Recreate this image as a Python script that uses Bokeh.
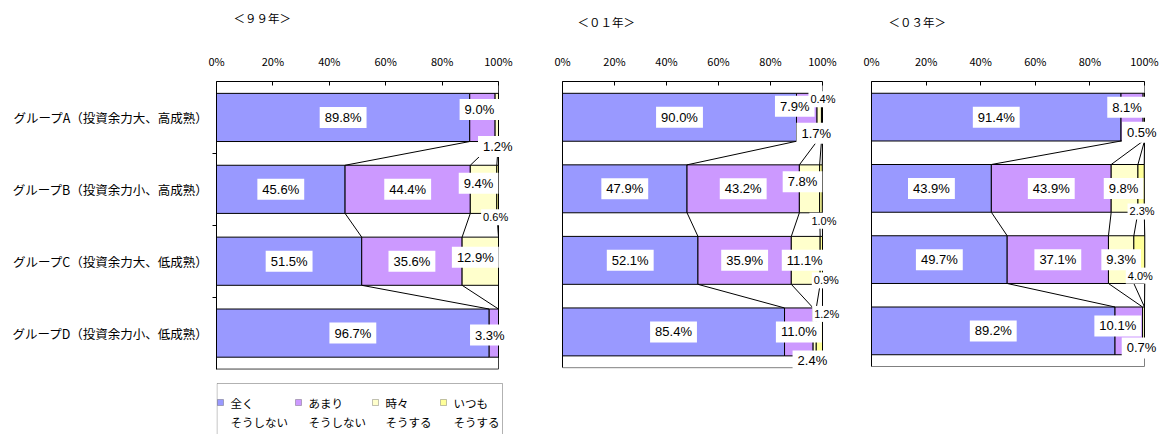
import numpy as np
from bokeh.plotting import figure
from bokeh.layouts import row, column
from bokeh.models import (ColumnDataSource, Range1d, FixedTicker, PrintfTickFormatter,
                          Label, BoxAnnotation)
from bokeh.embed import file_html
from bokeh.resources import INLINE

# ---------------- data ----------------
groups = ["グループA（投資余力大、高成熟）", "グループB（投資余力小、高成熟）",
          "グループC（投資余力大、低成熟）", "グループD（投資余力小、低成熟）"]
series = ["全く\nそうしない", "あまり\nそうしない", "時々\nそうする", "いつも\nそうする"]
years = ["＜９９年＞", "＜０１年＞", "＜０３年＞"]
ticks = [0, 20, 40, 60, 80, 100]

# 99年 (per series, values for groups A..D)
y99_zenku = [89.8, 45.6, 51.5, 96.7]
y99_amari = [9.0, 44.4, 35.6, 3.3]
y99_tokidoki = [1.2, 9.4, 12.9, 0.0]
y99_itsumo = [0.0, 0.6, 0.0, 0.0]
# 01年
y01_zenku = [90.0, 47.9, 52.1, 85.4]
y01_amari = [7.9, 43.2, 35.9, 11.0]
y01_tokidoki = [1.7, 7.8, 11.1, 1.2]
y01_itsumo = [0.4, 1.0, 0.9, 2.4]
# 03年
y03_zenku = [91.4, 43.9, 49.7, 89.2]
y03_amari = [8.1, 43.9, 37.1, 10.1]
y03_tokidoki = [0.5, 9.8, 9.3, 0.7]
y03_itsumo = [0.0, 2.3, 4.0, 0.0]

# ---------------- styles ----------------
colors = ["#9999FF", "#CC99FF", "#FFFFCC", "#FFFF99"]
JP = "Noto Sans CJK JP"
LAB = "Liberation Sans"
BAR_H = 0.67
H = 434
TH = 40  # height of the title strip

# label nudges (px right, px down, font px) keyed by (group index, series index)
nudges = [
    {(0, 1): (-3, -8, 13), (0, 2): (1, 29, 13), (1, 2): (-5, -6, 13), (1, 3): (-2, 28, 11),
     (2, 2): (-5, -4, 13), (3, 1): (-4, 2, 13)},
    {(0, 1): (-12, -11, 13), (0, 2): (-3, 16, 13), (0, 3): (1, -18, 11),
     (1, 2): (-7, -7, 13), (1, 3): (3, 32, 11), (2, 2): (-1, 0, 13), (2, 3): (5, 20, 11),
     (3, 2): (12, -18, 11), (3, 3): (-7, 29, 13)},
    {(0, 1): (-5, -10, 13), (0, 2): (-2, 15, 13), (1, 2): (-1, 0, 13), (1, 3): (1, 23, 11),
     (2, 3): (1, 16, 11), (3, 1): (-11, -5, 13), (3, 2): (-2, 17, 13)},
]

# panel geometry in page px: (figure left, plot left, plot right, plot top, plot bottom, figure right)
geoms = [(0, 216, 498, 78, 368, 530), (530, 562, 822, 80, 367, 850),
         (850, 871, 1144, 81, 366, 1165)]
title_xy = [(233, 17), (577, 21), (888, 21)]
area_cols = ["#404040", "#808080", "#808080"]


def make_title(k):
    fl, pl, pr, pt, pb, fr = geoms[k]
    t = figure(width=fr - fl, height=TH, x_axis_location=None, y_axis_location=None,
               output_backend="svg", toolbar_location=None, min_border=0,
               x_range=Range1d(0, 1), y_range=Range1d(0, 1))
    t.outline_line_color = None
    t.xgrid.visible = False
    t.ygrid.visible = False
    tx, ty = title_xy[k]
    t.add_layout(Label(x=tx - fl, y=ty, x_units="canvas", y_units="canvas", text=years[k],
                       text_font=JP, text_font_size="11.5px", text_color="black",
                       text_baseline="middle", text_align="left"))
    return t


def make_panel(k, vals):
    fl, pl, pr, pt, pb, fr = geoms[k]
    first = k == 0
    n = len(groups)
    xmax = ticks[-1]
    # extend the data ranges past the plot area so that labels/legend stay inside the frame
    x_end = xmax * (fr - pl) / (pr - pl)
    y_start = -n * (H - pb) / (pb - pt)
    ypos = [n - i - 0.5 for i in range(n)]

    src = ColumnDataSource(dict(y=ypos, s0=vals[0], s1=vals[1], s2=vals[2], s3=vals[3]))
    p = figure(width=fr - fl, height=H - TH, x_range=Range1d(0, x_end),
               y_range=Range1d(y_start, n), x_axis_location="above",
               y_axis_location="left", output_backend="svg", toolbar_location=None,
               min_border_left=pl - fl, min_border_right=0, min_border_top=pt - TH,
               min_border_bottom=0)
    p.background_fill_color = "white"
    p.border_fill_color = "white"
    p.outline_line_color = None
    p.xgrid.visible = False
    p.ygrid.visible = False

    # plot area box
    p.quad(left=[0], right=[xmax], bottom=[0], top=[n], fill_color=None,
           line_color=area_cols[k], line_width=1)

    p.hbar_stack(["s0", "s1", "s2", "s3"], y="y", height=BAR_H, color=colors,
                 line_color="black", line_width=1, source=src)

    # series lines
    cums = np.cumsum(np.array(vals, dtype=float).T, axis=1)
    half = BAR_H / 2
    x0, y0, x1, y1 = [], [], [], []
    for i in range(n - 1):
        for s in range(len(series)):
            x0.append(float(cums[i, s])); y0.append(ypos[i] - half)
            x1.append(float(cums[i + 1, s])); y1.append(ypos[i + 1] + half)
    p.segment(x0=x0, y0=y0, x1=x1, y1=y1, line_color="black", line_width=1)

    # data labels
    for gi in range(n):
        for si in range(len(series)):
            v = vals[si][gi]
            if v <= 0:
                continue
            dx, dy, fs = nudges[k].get((gi, si), (0, 0, 13))
            p.add_layout(Label(x=float(cums[gi, si] - v / 2), y=ypos[gi],
                               x_offset=dx, y_offset=-dy, text=f"{v:.1f}%",
                               text_font=LAB, text_font_size=f"{fs}px", text_color="black",
                               text_align="center", text_baseline="middle",
                               background_fill_color="white",
                               padding=(5, 3) if fs > 12 else (2, 2)))

    # top axis
    ax = p.xaxis[0]
    ax.ticker = FixedTicker(ticks=ticks)
    ax.bounds = (0, xmax)
    ax.formatter = PrintfTickFormatter(format="%d%%")
    ax.major_tick_in = 4
    ax.major_tick_out = 0
    ax.minor_tick_line_color = None
    ax.major_label_text_font = JP
    ax.major_label_text_font_size = "11px"
    ax.major_label_text_color = "black"
    ax.major_label_standoff = 13
    ax.axis_line_color = "black"
    ax.major_tick_line_color = "black"

    # left axis (category names on the first panel)
    ya = p.yaxis[0]
    ya.bounds = (0, n)
    ya.axis_line_color = "black"
    ya.major_tick_in = 0
    ya.major_tick_out = 0
    if first:
        ya.ticker = FixedTicker(ticks=ypos, minor_ticks=list(range(1, n)))
        ya.major_label_overrides = {y: g for y, g in zip(ypos, groups)}
        ya.minor_tick_in = 0
        ya.minor_tick_out = 4
        ya.minor_tick_line_color = "black"
        ya.major_label_standoff = 4
        ya.major_label_text_font = JP
        ya.major_label_text_font_size = "12.5px"
        ya.major_label_text_color = "black"
    else:
        ya.ticker = FixedTicker(ticks=[])
        ya.major_label_standoff = 0
        ya.minor_tick_line_color = None
    return p


p1 = make_panel(0, [y99_zenku, y99_amari, y99_tokidoki, y99_itsumo])
p2 = make_panel(1, [y01_zenku, y01_amari, y01_tokidoki, y01_itsumo])
p3 = make_panel(2, [y03_zenku, y03_amari, y03_tokidoki, y03_itsumo])

# legend (below panel 1's plot area, inside its frame), canvas px
LY = -TH
p1.add_layout(BoxAnnotation(left=216.5, right=502, top=383 + LY, bottom=H,
                            left_units="canvas", right_units="canvas",
                            top_units="canvas", bottom_units="canvas",
                            fill_color=None, line_color="black", line_width=1))
legend_text_x = [230, 308, 385, 453]
for i, name in enumerate(series):
    tx = legend_text_x[i]
    p1.add_layout(BoxAnnotation(left=tx - 13, right=tx - 7, top=399 + LY, bottom=405 + LY,
                                left_units="canvas", right_units="canvas",
                                top_units="canvas", bottom_units="canvas",
                                fill_color=colors[i], fill_alpha=1, line_color="#333333",
                                line_width=1))
    for li, line in enumerate(name.split("\n")):
        p1.add_layout(Label(x=tx, y=402 + LY + 19 * li, x_units="canvas", y_units="canvas",
                            text=line, text_font=JP, text_font_size="11.5px",
                            text_color="black", text_baseline="middle", text_align="left"))

layout = column(row(make_title(0), make_title(1), make_title(2)), row(p1, p2, p3))
open("out.html", "w").write(file_html(layout, INLINE))
